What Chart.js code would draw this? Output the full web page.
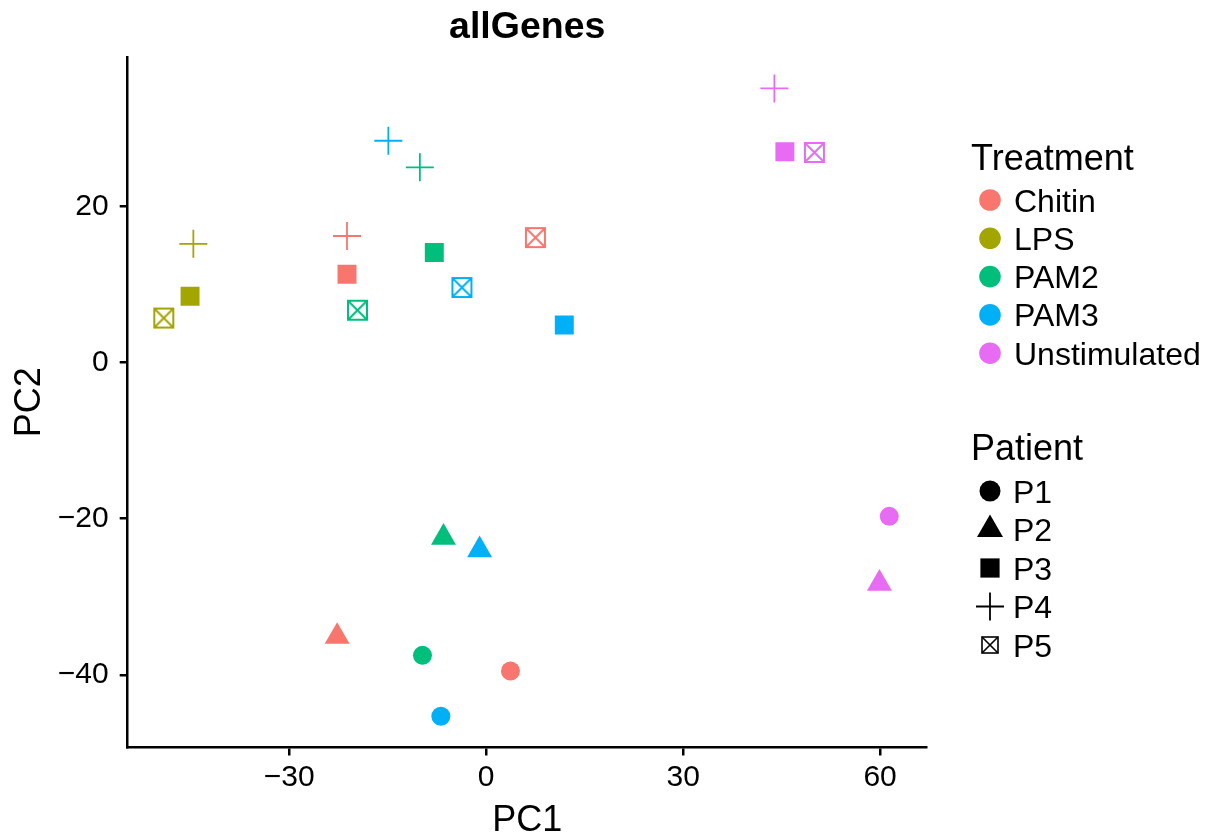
<!DOCTYPE html>
<html>
<head>
<meta charset="utf-8">
<title>allGenes</title>
<script src="https://cdn.jsdelivr.net/npm/chart.js@4.4.1/dist/chart.umd.min.js"></script>
<style>
  html, body { margin: 0; padding: 0; background: #fff; }
  #wrap { width: 1210px; height: 835px; }
</style>
</head>
<body>
<div id="wrap"><canvas id="pca"></canvas></div>
<script>
// data (PC1 / PC2 per patient P1..P5)
const treatments = ['Chitin', 'LPS', 'PAM2', 'PAM3', 'Unstimulated'];
const patients = ['P1', 'P2', 'P3', 'P4', 'P5'];
const colors = ['#F8766D', '#A3A500', '#00BF7D', '#00B0F6', '#E76BF3'];

const chitinX = [3.7, -22.7, -21.2, -21.2, 7.5];
const chitinY = [-39.5, -35.1, 11.3, 16.2, 16.0];
const lpsX = [null, null, -45.1, -44.6, -49.1];
const lpsY = [null, null, 8.5, 15.2, 5.7];
const pam2X = [-9.7, -6.5, -7.9, -10.1, -19.6];
const pam2Y = [-37.5, -22.4, 14.1, 25.0, 6.7];
const pam3X = [-6.9, -1.0, 11.9, -14.9, -3.7];
const pam3Y = [-45.3, -24.0, 4.8, 28.4, 9.6];
const unstimX = [61.4, 59.9, 45.5, 43.9, 50.0];
const unstimY = [-19.7, -28.3, 27.0, 35.1, 26.9];

const xTicks = [-30, 0, 30, 60];
const yTicks = [-40, -20, 0, 20];

const seriesX = [chitinX, lpsX, pam2X, pam3X, unstimX];
const seriesY = [chitinY, lpsY, pam2Y, pam3Y, unstimY];

const FONT = "'Liberation Sans', Arial, Helvetica, sans-serif";
Chart.defaults.font.family = FONT;
Chart.defaults.color = '#000';

// square with an X (ggplot shape 7), one canvas per colour
function boxX(color, side, lw) {
  const c = document.createElement('canvas');
  const s = Math.ceil(side + lw + 2);
  c.width = s; c.height = s;
  const g = c.getContext('2d');
  const a = (s - side) / 2, b = a + side;
  g.strokeStyle = color;
  g.lineWidth = lw;
  g.strokeRect(a, a, side, side);
  g.beginPath();
  g.moveTo(a, a); g.lineTo(b, b);
  g.moveTo(b, a); g.lineTo(a, b);
  g.stroke();
  return c;
}

const shapeStyle = ['circle', 'triangle', 'rect', 'cross', null];
const shapeRadius = [9.5, 14.4, 13.4, 14, 10];
const shapeBorder = [0, 0, 0, 1.8, 0];

const datasets = treatments.map((t, k) => {
  const img = boxX(colors[k], 19, 2);
  const pts = patients.map((p, i) => ({ x: seriesX[k][i], y: seriesY[k][i], patient: i }))
    .filter(d => d.x !== null);
  return {
    label: t,
    data: pts,
    pointStyle: ctx => ctx.raw && ctx.raw.patient === 4 ? img : shapeStyle[ctx.raw ? ctx.raw.patient : 0],
    pointRadius: ctx => shapeRadius[ctx.raw ? ctx.raw.patient : 0],
    pointHoverRadius: ctx => shapeRadius[ctx.raw ? ctx.raw.patient : 0],
    pointBorderWidth: ctx => shapeBorder[ctx.raw ? ctx.raw.patient : 0],
    pointBackgroundColor: colors[k],
    pointBorderColor: colors[k]
  };
});

const minus = v => v < 0 ? '\u2212' + Math.abs(v) : String(v);

// legend on the right: colour keys and shape keys
const sideLegend = {
  id: 'sideLegend',
  afterDraw(chart) {
    const ctx = chart.ctx;
    ctx.save();
    ctx.textBaseline = 'alphabetic';
    ctx.fillStyle = '#000';
    ctx.font = '36px ' + FONT;
    ctx.fillText('Treatment', 971, 170);
    ctx.font = '32px ' + FONT;
    treatments.forEach((t, i) => {
      const y = 200 + i * 38.3;
      ctx.fillStyle = colors[i];
      ctx.beginPath();
      ctx.arc(990, y, 10.8, 0, Math.PI * 2);
      ctx.fill();
      ctx.fillStyle = '#000';
      ctx.fillText(t, 1014, y + 11.5);
    });

    ctx.font = '36px ' + FONT;
    ctx.fillText('Patient', 971, 460);
    ctx.font = '32px ' + FONT;
    const x = 990;
    patients.forEach((p, i) => {
      const y = 491 + i * 38.5;
      ctx.fillStyle = '#000';
      ctx.strokeStyle = '#000';
      ctx.beginPath();
      if (i === 0) {
        ctx.arc(x, y, 10.5, 0, Math.PI * 2);
        ctx.fill();
      } else if (i === 1) {
        const r = 15;
        ctx.moveTo(x, y - r);
        ctx.lineTo(x + r * 0.866, y + r / 2);
        ctx.lineTo(x - r * 0.866, y + r / 2);
        ctx.closePath();
        ctx.fill();
      } else if (i === 2) {
        ctx.fillRect(x - 9.6, y - 9.6, 19.2, 19.2);
      } else if (i === 3) {
        ctx.lineWidth = 1.8;
        ctx.moveTo(x - 14, y); ctx.lineTo(x + 14, y);
        ctx.moveTo(x, y - 14); ctx.lineTo(x, y + 14);
        ctx.stroke();
      } else {
        const h = 8;
        ctx.lineWidth = 1.6;
        ctx.strokeRect(x - h, y - h, 2 * h, 2 * h);
        ctx.moveTo(x - h, y - h); ctx.lineTo(x + h, y + h);
        ctx.moveTo(x + h, y - h); ctx.lineTo(x - h, y + h);
        ctx.stroke();
      }
      ctx.fillText(p, 1013, y + 11.5);
    });
    ctx.restore();
  }
};

new Chart(document.getElementById('pca'), {
  type: 'scatter',
  data: { datasets: datasets },
  plugins: [sideLegend],
  options: {
    responsive: true,
    maintainAspectRatio: false,
    animation: false,
    layout: { padding: { left: 0, right: 283.3, top: 0, bottom: 0 } },
    plugins: {
      legend: { display: false },
      tooltip: { enabled: false },
      title: {
        display: true,
        text: 'allGenes',
        fullSize: false,
        color: '#000',
        font: { size: 37.5, weight: 'bold', lineHeight: 1.2 },
        padding: { top: 5, bottom: 7.2 }
      }
    },
    scales: {
      x: {
        type: 'linear',
        position: 'bottom',
        min: -54.6,
        max: 67.1,
        afterBuildTicks: s => { s.ticks = xTicks.map(v => ({ value: v })); },
        afterFit: s => { s.height = 87.5; },
        ticks: { font: { size: 30, lineHeight: 1.2 }, color: '#000', padding: 4, maxRotation: 0, autoSkip: false, callback: minus },
        grid: { display: true, drawOnChartArea: false, drawTicks: true, tickLength: 8, color: '#000', lineWidth: 2.5 },
        border: { display: true, color: '#000', width: 2.5 },
        title: { display: true, text: 'PC1', color: '#000', font: { size: 36, lineHeight: 0.75 }, padding: 0 }
      },
      y: {
        type: 'linear',
        position: 'left',
        min: -49.3,
        max: 39.1,
        afterBuildTicks: s => { s.ticks = yTicks.map(v => ({ value: v })); },
        afterFit: s => { s.width = 127.7; },
        ticks: { font: { size: 30, lineHeight: 1.2 }, color: '#000', padding: 11, autoSkip: false, callback: minus },
        grid: { display: true, drawOnChartArea: false, drawTicks: true, tickLength: 8, color: '#000', lineWidth: 2.5 },
        border: { display: true, color: '#000', width: 2.5 },
        title: { display: true, text: 'PC2', color: '#000', font: { size: 36, lineHeight: 1 }, padding: { top: 12, bottom: 0 } }
      }
    }
  }
});
</script>
</body>
</html>
